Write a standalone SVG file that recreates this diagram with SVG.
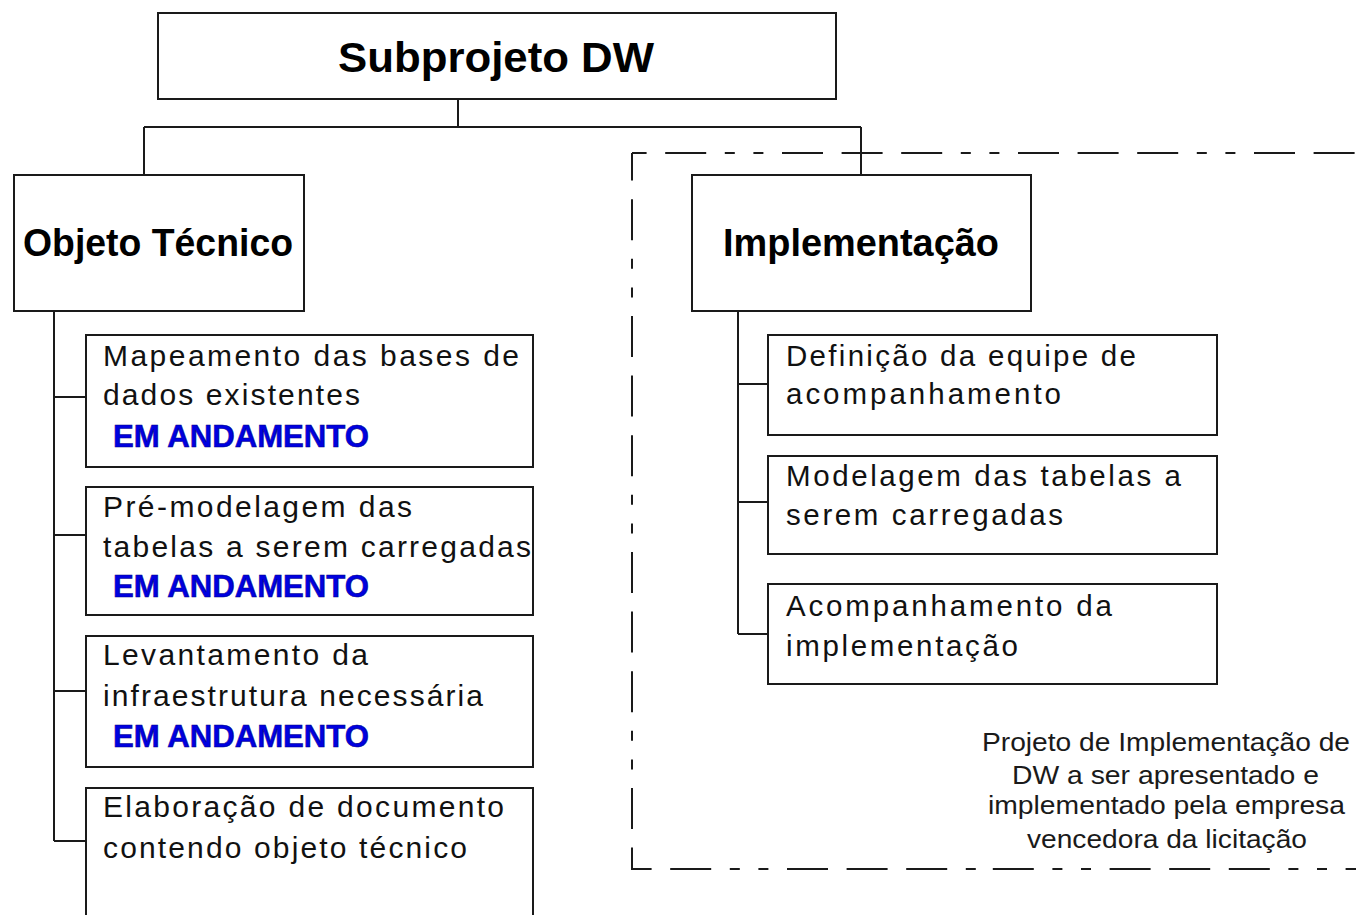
<svg xmlns="http://www.w3.org/2000/svg" width="1356" height="915" viewBox="0 0 1356 915">
<style>
.box{fill:#fff;stroke:#1a1a1a;stroke-width:2}
.ln{fill:none;stroke:#1a1a1a;stroke-width:2}
.dash{fill:none;stroke:#1a1a1a;stroke-width:2;stroke-dasharray:41 18.6 41 18.6 41 18.6 10 18.6 10 18.6}
.title{font-family:"Liberation Sans",Arial,sans-serif;font-weight:bold;fill:#000}
.t{font-family:"Liberation Sans",Arial,sans-serif;fill:#111;font-size:30px}
.tr{font-family:"Liberation Sans",Arial,sans-serif;fill:#111;font-size:29.5px}
.em{font-family:"Liberation Sans",Arial,sans-serif;font-weight:bold;fill:#0000e0;stroke:#00008a;stroke-width:0.6;font-size:32px}
.note{font-family:"Liberation Sans",Arial,sans-serif;fill:#1a1a1a;font-size:26.5px}
</style>
<rect width="1356" height="915" fill="#fff"/>

<g id="dashed-boundary">
<path class="dash" d="M632,153 H1356" stroke-dashoffset="86"/>
<path class="dash" d="M632,153 V869 H984" stroke-dashoffset="73"/>
<path class="dash" d="M992.8,869 H1356" stroke-dashoffset="119.2"/>
</g>

<g id="connectors">
<path class="ln" d="M458,99 V127 M144,127 H861 M144,127 V175 M861,127 V175"/>
<path class="ln" d="M54,311 V841 M54,397 H86 M54,535 H86 M54,691 H86 M54,841 H86"/>
<path class="ln" d="M738,311 V634 M738,384 H768 M738,502 H768 M738,634 H768"/>
</g>

<g id="subprojeto-dw">
<rect class="box" x="158" y="13" width="678" height="86"/>
<text class="title" x="338" y="72" font-size="42" textLength="316" lengthAdjust="spacingAndGlyphs">Subprojeto DW</text>
</g>

<g id="objeto-tecnico">
<rect class="box" x="14" y="175" width="290" height="136"/>
<text class="title" x="23" y="256" font-size="39" textLength="270" lengthAdjust="spacingAndGlyphs">Objeto Técnico</text>
</g>

<g id="implementacao">
<rect class="box" x="692" y="175" width="339" height="136"/>
<text class="title" x="723" y="256" font-size="39" textLength="276" lengthAdjust="spacingAndGlyphs">Implementação</text>
</g>

<g id="mapeamento">
<rect class="box" x="86" y="335" width="447" height="132"/>
<text class="t" x="103" y="366" textLength="416">Mapeamento das bases de</text>
<text class="t" x="103" y="405" textLength="257">dados existentes</text>
<text class="em" x="113" y="447" textLength="256" lengthAdjust="spacingAndGlyphs">EM ANDAMENTO</text>
</g>

<g id="pre-modelagem">
<rect class="box" x="86" y="487" width="447" height="128"/>
<text class="t" x="103" y="517" textLength="309">Pré-modelagem das</text>
<text class="t" x="103" y="557" textLength="428">tabelas a serem carregadas</text>
<text class="em" x="113" y="597" textLength="256" lengthAdjust="spacingAndGlyphs">EM ANDAMENTO</text>
</g>

<g id="levantamento">
<rect class="box" x="86" y="636" width="447" height="131"/>
<text class="t" x="103" y="665" textLength="265">Levantamento da</text>
<text class="t" x="103" y="706" textLength="380">infraestrutura necessária</text>
<text class="em" x="113" y="747" textLength="256" lengthAdjust="spacingAndGlyphs">EM ANDAMENTO</text>
</g>

<g id="elaboracao">
<rect class="box" x="86" y="788" width="447" height="150"/>
<text class="t" x="103" y="817" textLength="401">Elaboração de documento</text>
<text class="t" x="103" y="858" textLength="364">contendo objeto técnico</text>
</g>

<g id="definicao">
<rect class="box" x="768" y="335" width="449" height="100"/>
<text class="tr" x="786" y="366" textLength="350">Definição da equipe de</text>
<text class="tr" x="786" y="404" textLength="275">acompanhamento</text>
</g>

<g id="modelagem">
<rect class="box" x="768" y="456" width="449" height="98"/>
<text class="tr" x="786" y="486" textLength="395">Modelagem das tabelas a</text>
<text class="tr" x="786" y="525" textLength="277">serem carregadas</text>
</g>

<g id="acompanhamento">
<rect class="box" x="768" y="584" width="449" height="100"/>
<text class="tr" x="786" y="616" textLength="326">Acompanhamento da</text>
<text class="tr" x="786" y="656" textLength="232">implementação</text>
</g>

<g id="nota">
<text class="note" x="982" y="751" textLength="368" lengthAdjust="spacingAndGlyphs">Projeto de Implementação de</text>
<text class="note" x="1012" y="784" textLength="307" lengthAdjust="spacingAndGlyphs">DW a ser apresentado e</text>
<text class="note" x="988" y="814" textLength="357" lengthAdjust="spacingAndGlyphs">implementado pela empresa</text>
<text class="note" x="1027" y="848" textLength="280" lengthAdjust="spacingAndGlyphs">vencedora da licitação</text>
</g>
</svg>
